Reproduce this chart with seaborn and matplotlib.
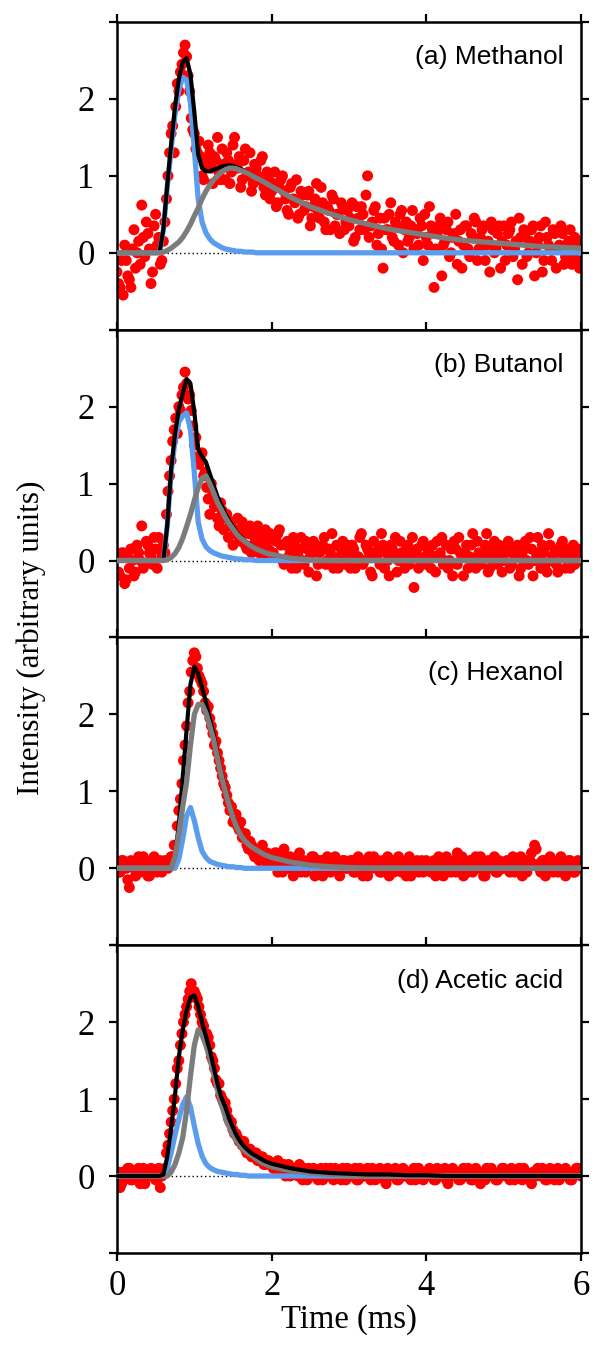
import numpy as np
import pandas as pd
import matplotlib
matplotlib.use("Agg")
import matplotlib.pyplot as plt
import seaborn as sns

# ---------------- data ----------------
PANEL_LABELS = ["(a) Methanol", "(b) Butanol", "(c) Hexanol", "(d) Acetic acid"]
YLIMS = [(-0.7, 3.0), (-1.0, 3.0), (-0.7, 3.0), (-1.0, 3.0)]
X_TICKS = [0, 2, 4, 6]
Y_TICKS = [-1, 0, 1, 2, 3]
Y_TICKLABELS = ["", "0", "1", "2", ""]

# time grid of the fitted curves (ms)
T_FIT = [0.0, 0.25, 0.5, 0.55, 0.6, 0.65, 0.7, 0.75, 0.8, 0.85, 0.9, 0.95, 1.0,
         1.05, 1.1, 1.15, 1.2, 1.25, 1.3, 1.35, 1.4, 1.45, 1.5, 1.55, 1.6, 1.65,
         1.7, 1.75, 1.8, 1.85, 1.9, 1.95, 2.0, 2.25, 2.5, 2.75, 3.0, 3.25, 3.5,
         3.75, 4.0, 4.25, 4.5, 4.75, 5.0, 5.25, 5.5, 5.75, 6.0]

BLUE_A = [0, 0, 0, 0, 0.3, 0.85, 1.35, 1.8, 2.12, 2.28, 2.25, 1.95, 1.35, 0.7, 0.4,
          0.26, 0.18, 0.13, 0.1, 0.07, 0.05, 0.04, 0.03, 0.02, 0.02, 0.01, 0.01,
          0.01] + [0] * 21
GREY_A = [0, 0, 0, 0, 0.01, 0.03, 0.06, 0.1, 0.14, 0.2, 0.28, 0.37, 0.48, 0.58,
          0.7, 0.8, 0.88, 0.95, 1.0, 1.05, 1.08, 1.1, 1.1, 1.09, 1.07, 1.05, 1.03,
          1.0, 0.97, 0.95, 0.92, 0.89, 0.86, 0.72, 0.6, 0.51, 0.43, 0.37, 0.31,
          0.27, 0.23, 0.19, 0.16, 0.14, 0.12, 0.1, 0.08, 0.07, 0.06]
BLACK_A = [0, 0, 0, 0, 0.31, 0.88, 1.41, 1.9, 2.26, 2.48, 2.53, 2.32, 1.83, 1.28,
           1.1, 1.06, 1.06, 1.08, 1.1, 1.12, 1.13, 1.14, 1.13, 1.11, 1.09, 1.06,
           1.04, 1.01, 0.97, 0.95, 0.92, 0.89, 0.86, 0.72, 0.6, 0.51, 0.43, 0.37,
           0.31, 0.27, 0.23, 0.19, 0.16, 0.14, 0.12, 0.1, 0.08, 0.07, 0.06]

BLUE_B = [0, 0, 0, 0, 0, 0.45, 1.15, 1.55, 1.8, 1.88, 1.92, 1.7, 1.15, 0.5, 0.28,
          0.18, 0.13, 0.1, 0.08, 0.06, 0.05, 0.04, 0.03, 0.02, 0.02, 0.01, 0.01,
          0.01] + [0] * 21
GREY_B = [0, 0, 0, 0, 0, 0.01, 0.04, 0.09, 0.17, 0.29, 0.44, 0.6, 0.78, 0.95, 1.07,
          1.1, 1.0, 0.88, 0.75, 0.66, 0.56, 0.48, 0.41, 0.34, 0.29, 0.25, 0.21,
          0.18, 0.15, 0.13, 0.11, 0.09, 0.08, 0.03, 0.01] + [0] * 14
BLACK_B = [0, 0, 0, 0, 0, 0.46, 1.19, 1.64, 1.97, 2.17, 2.36, 2.3, 1.93, 1.45, 1.35,
           1.28, 1.13, 0.98, 0.83, 0.72, 0.61, 0.52, 0.44, 0.36, 0.31, 0.26, 0.22,
           0.19, 0.15, 0.13, 0.11, 0.09, 0.08, 0.03, 0.01] + [0] * 14

BLUE_C = [0, 0, 0, 0, 0, 0, 0, 0, 0.12, 0.38, 0.68, 0.79, 0.62, 0.4, 0.22, 0.14,
          0.09, 0.07, 0.05, 0.04, 0.03, 0.02, 0.02, 0.01, 0.01] + [0] * 24
GREY_C = [0, 0, 0, 0, 0, 0, 0, 0.15, 0.45, 0.8, 1.12, 1.6, 2.0, 2.13, 2.13, 2.02,
          1.85, 1.67, 1.43, 1.2, 1.0, 0.82, 0.66, 0.53, 0.43, 0.36, 0.31, 0.27,
          0.24, 0.21, 0.18, 0.16, 0.14, 0.08, 0.04, 0.02, 0.01] + [0] * 12
BLACK_C = [0, 0, 0, 0, 0, 0, 0, 0.15, 0.57, 1.18, 1.8, 2.39, 2.62, 2.53, 2.35, 2.16,
           1.94, 1.74, 1.48, 1.24, 1.03, 0.84, 0.68, 0.54, 0.44, 0.36, 0.31, 0.27,
           0.24, 0.21, 0.18, 0.16, 0.14, 0.08, 0.04, 0.02, 0.01] + [0] * 12

BLUE_D = [0, 0, 0, 0, 0, 0.1, 0.3, 0.53, 0.74, 0.93, 1.03, 0.9, 0.65, 0.42, 0.26,
          0.16, 0.11, 0.08, 0.06, 0.05, 0.04, 0.03, 0.02, 0.02, 0.01, 0.01] + [0] * 23
GREY_D = [0, 0, 0, 0, 0, 0, 0.05, 0.15, 0.3, 0.5, 0.85, 1.3, 1.7, 1.9, 1.83, 1.7,
          1.53, 1.33, 1.12, 0.93, 0.77, 0.64, 0.53, 0.45, 0.38, 0.33, 0.29, 0.26,
          0.22, 0.19, 0.16, 0.14, 0.12, 0.07, 0.04, 0.02, 0.01] + [0] * 12
BLACK_D = [0, 0, 0, 0, 0.02, 0.25, 0.62, 1.05, 1.55, 1.9, 2.15, 2.32, 2.35, 2.2, 2.0,
           1.82, 1.64, 1.42, 1.2, 1.02, 0.9, 0.75, 0.63, 0.52, 0.44, 0.38, 0.33,
           0.29, 0.26, 0.23, 0.2, 0.18, 0.16, 0.1, 0.06, 0.04, 0.03, 0.02, 0.02,
           0.01, 0.01] + [0] * 8

# measured points: "EVEN" sampled at 0, 0.04, ... 6.00 ms;
# "ODD" sampled at 0.02, 0.06, ... 5.98 ms (one row per ms)
T_STEP = 0.04
EVEN_A = [
    -0.25, -0.45, -0.55, -0.1, -0.35, 0.05, -0.2, 0.15, 0.62, -0.05, 0.25, -0.4, 0.35, 0.1, -0.15, 0.15, 0.7, 1.3, 1.65, 1.9, 2.1, 2.45, 2.7, 2.3, 1.75,
    1.55, 1.3, 1.25, 0.95, 1.15, 1.3, 0.9, 1.2, 1.05, 1.35, 0.95, 1.2, 1.05, 1.5, 1.1, 0.85, 1.2, 1.0, 1.3, 0.9, 1.1, 0.95, 1.25, 0.75, 0.95,
    0.8, 1.05, 0.65, 0.95, 0.8, 0.55, 0.85, 0.7, 0.95, 0.5, 0.75, 0.6, 0.8, 0.45, 0.7, 0.55, 0.85, 0.4, 0.6, 0.3, 0.7, 0.5, 0.25, 0.6, 0.4,
    0.35, 0.65, 0.2, 0.45, 0.6, 0.3, 1.0, 0.35, 0.55, 0.1, 0.45, -0.2, 0.3, 0.5, 0.2, 0.4, 0.1, 0.55, 0.3, 0.15, 0.35, 0.05, 0.25, 0.45, -0.1,
    0.2, 0.6, 0.3, 0.05, 0.35, -0.3, 0.15, 0.4, 0.0, 0.25, -0.15, 0.3, 0.1, 0.35, -0.05, 0.2, 0.4, 0.05, 0.3, -0.1, 0.15, 0.4, 0.0, 0.25, -0.2,
    0.35, 0.1, 0.3, -0.05, 0.15, 0.45, -0.15, 0.2, 0.0, 0.3, -0.3, 0.1, 0.35, -0.1, 0.2, 0.05, 0.3, -0.2, 0.1, 0.25, -0.05, 0.15, -0.15, 0.2, -0.1,
    0.1]
ODD_A = [
    -0.4, -0.1, 0.1, -0.3, -0.45, 0.3, 0.0, -0.15, 0.2, 0.4, 0.05, -0.25, 0.5, 0.2, -0.1, 0.4, 1.0, 1.55, 1.3, 2.2, 2.35, 2.6, 2.55, 2.1, 1.6,
    1.35, 1.45, 1.0, 1.2, 1.4, 1.1, 1.25, 1.5, 0.95, 1.15, 1.3, 0.9, 1.4, 1.15, 1.25, 0.95, 1.35, 1.05, 0.8, 1.15, 1.0, 1.2, 0.85, 1.05, 0.7,
    0.9, 0.6, 0.85, 1.0, 0.7, 0.5, 0.9, 0.65, 0.45, 0.8, 0.55, 0.75, 0.35, 0.6, 0.9, 0.45, 0.65, 0.3, 0.55, 0.75, 0.35, 0.5, 0.65, 0.3, 0.55,
    0.45, 0.15, 0.6, 0.3, 0.5, 0.75, 0.2, 0.4, 0.6, 0.25, 0.05, 0.45, 0.3, 0.65, 0.15, 0.35, 0.5, 0.0, 0.4, 0.2, 0.55, 0.3, 0.1, 0.35, 0.5,
    0.1, 0.35, -0.45, 0.25, 0.45, 0.1, 0.3, -0.05, 0.2, 0.5, 0.15, -0.2, 0.35, 0.05, 0.25, 0.45, -0.1, 0.2, 0.35, 0.1, -0.25, 0.3, 0.05, 0.35, 0.15,
    -0.1, 0.25, 0.4, 0.05, -0.35, 0.2, 0.3, -0.05, 0.15, 0.35, 0.0, 0.2, -0.25, 0.4, 0.1, -0.1, 0.25, 0.05, 0.35, -0.15, 0.1, 0.3, -0.05, 0.15, -0.2]

EVEN_B = [
    0.05, -0.2, 0.1, -0.25, -0.1, 0.0, -0.15, 0.1, 0.45, -0.05, 0.2, 0.05, 0.3, -0.1, 0.15, 0.2, 0.6, 1.1, 1.55, 1.85, 2.0, 2.15, 2.45, 2.1, 1.95,
    1.5, 1.35, 1.3, 1.1, 0.95, 0.6, 0.85, 0.75, 0.45, 0.65, 0.55, 0.3, 0.5, 0.35, 0.55, 0.25, 0.4, 0.15, 0.45, 0.2, 0.35, 0.1, 0.3, 0.4, 0.15,
    0.3, 0.05, 0.35, 0.2, -0.05, 0.25, 0.1, 0.3, -0.1, 0.15, 0.0, 0.25, -0.15, 0.1, 0.2, -0.05, 0.15, 0.3, 0.0, 0.1, -0.1, 0.2, 0.05, 0.25, -0.05,
    0.1, 0.2, -0.1, 0.05, 0.35, 0.0, 0.15, -0.15, 0.25, 0.05, -0.05, 0.2, 0.1, -0.2, 0.15, 0.3, 0.0, 0.1, -0.1, 0.2, 0.05, -0.35, 0.15, 0.0, 0.25,
    -0.05, 0.1, 0.2, -0.15, 0.05, 0.3, 0.0, -0.1, 0.15, 0.25, -0.05, 0.1, -0.2, 0.2, 0.05, 0.35, -0.1, 0.1, 0.0, 0.2, -0.15, 0.05, 0.25, -0.05, 0.1,
    0.0, 0.2, -0.1, 0.15, 0.05, -0.2, 0.1, 0.25, -0.05, 0.15, 0.0, 0.3, -0.1, 0.1, -0.15, 0.2, 0.05, -0.05, 0.15, 0.25, -0.1, 0.05, 0.1, -0.05, 0.15,
    0.05]
ODD_B = [
    -0.15, 0.1, -0.3, 0.05, 0.15, -0.2, 0.2, 0.0, -0.1, 0.25, 0.1, -0.05, 0.15, 0.3, 0.05, 0.1, 0.9, 1.3, 1.7, 1.65, 1.95, 2.25, 2.3, 2.15, 1.75,
    1.6, 1.25, 1.4, 1.15, 0.8, 1.0, 0.7, 0.55, 0.75, 0.4, 0.6, 0.45, 0.2, 0.4, 0.3, 0.5, 0.2, 0.35, 0.1, 0.3, 0.45, 0.2, 0.05, 0.25, 0.35,
    0.1, 0.25, 0.4, 0.0, 0.2, 0.05, -0.1, 0.2, 0.1, 0.3, -0.05, 0.15, 0.05, 0.25, -0.2, 0.1, 0.2, -0.05, 0.15, 0.35, 0.0, -0.1, 0.15, 0.05, 0.2,
    -0.1, 0.15, 0.05, 0.3, -0.05, 0.2, 0.1, -0.2, 0.05, 0.15, 0.35, -0.1, 0.0, 0.2, 0.1, -0.15, 0.25, 0.05, 0.15, -0.05, 0.3, 0.1, -0.1, 0.2, 0.05,
    0.15, -0.1, 0.05, 0.25, 0.1, -0.05, 0.2, 0.0, -0.2, 0.15, 0.3, 0.05, 0.1, -0.1, 0.2, 0.0, 0.25, -0.05, 0.1, 0.35, -0.1, 0.15, 0.0, 0.2, -0.15,
    0.1, 0.25, -0.05, 0.05, 0.2, -0.1, 0.15, 0.0, 0.3, -0.2, 0.1, 0.05, 0.2, -0.05, 0.35, 0.0, 0.1, -0.15, 0.2, 0.05, 0.15, -0.1, 0.2, 0.0, 0.1]

EVEN_C = [
    0.05, -0.05, 0.1, 0.0, -0.25, 0.05, -0.1, 0.15, 0.0, 0.1, -0.1, 0.05, 0.15, -0.05, 0.1, 0.0, 0.05, 0.1, 0.15, 0.3, 0.75, 1.1, 1.6, 2.15, 2.55,
    2.8, 2.6, 2.45, 2.3, 2.05, 1.95, 1.75, 1.65, 1.4, 1.2, 1.05, 0.85, 0.8, 0.65, 0.55, 0.6, 0.4, 0.3, 0.35, 0.2, 0.25, 0.1, 0.3, 0.15, 0.05,
    0.15, 0.2, -0.05, 0.1, 0.25, 0.0, 0.15, -0.1, 0.1, 0.2, 0.05, -0.05, 0.1, 0.15, -0.1, 0.05, 0.1, 0.0, 0.15, -0.05, 0.1, 0.05, -0.1, 0.1, 0.0,
    0.05, 0.1, -0.05, 0.15, 0.0, 0.1, -0.1, 0.05, 0.15, 0.0, -0.05, 0.1, 0.05, -0.1, 0.1, 0.0, 0.15, -0.05, 0.05, 0.1, -0.1, 0.0, 0.1, 0.05, -0.05,
    0.1, 0.0, 0.05, -0.1, 0.15, 0.05, 0.0, 0.1, -0.05, 0.1, 0.2, 0.0, -0.1, 0.05, 0.1, -0.05, 0.15, 0.05, 0.0, -0.1, 0.1, 0.05, 0.15, -0.05, 0.05,
    0.0, 0.1, -0.05, 0.15, 0.05, 0.0, -0.1, 0.1, 0.05, 0.2, 0.3, 0.05, -0.05, 0.1, 0.0, 0.15, -0.05, 0.05, 0.1, 0.0, -0.1, 0.1, 0.05, -0.05, 0.1,
    0.05]
ODD_C = [
    -0.05, 0.1, 0.05, -0.15, 0.1, 0.0, 0.05, -0.05, 0.15, 0.05, -0.1, 0.1, 0.0, 0.05, -0.05, 0.1, 0.0, 0.15, 0.3, 0.55, 0.9, 1.4, 1.85, 2.3, 2.7,
    2.75, 2.5, 2.4, 2.15, 2.1, 1.85, 1.6, 1.5, 1.3, 1.1, 0.95, 0.75, 0.6, 0.7, 0.5, 0.4, 0.45, 0.25, 0.3, 0.15, 0.2, 0.25, 0.1, 0.2, 0.1,
    0.05, 0.2, 0.1, -0.05, 0.15, 0.05, 0.1, 0.0, 0.15, -0.05, 0.1, 0.0, 0.05, 0.15, 0.0, 0.1, -0.1, 0.05, 0.1, 0.0, 0.15, -0.05, 0.05, 0.1, 0.0,
    0.1, -0.05, 0.05, 0.1, -0.1, 0.05, 0.15, 0.0, 0.05, 0.1, -0.05, 0.0, 0.15, 0.05, -0.05, 0.1, 0.0, 0.05, -0.1, 0.15, 0.05, 0.0, -0.05, 0.1, 0.0,
    0.05, -0.05, 0.1, 0.0, 0.05, -0.1, 0.15, 0.0, 0.05, -0.05, 0.1, 0.15, 0.0, -0.05, 0.1, 0.05, 0.0, 0.15, -0.1, 0.05, 0.0, 0.1, -0.05, 0.1, 0.0,
    0.05, 0.0, 0.1, -0.05, 0.1, 0.15, 0.0, -0.05, 0.1, 0.05, 0.25, 0.0, 0.1, -0.1, 0.05, 0.1, 0.0, -0.05, 0.15, 0.05, 0.0, 0.1, -0.05, 0.05, 0.0]

EVEN_D = [
    -0.05, -0.15, 0.05, 0.0, 0.1, -0.05, 0.05, 0.1, 0.0, -0.1, 0.05, 0.1, 0.0, -0.05, -0.15, 0.05, 0.3, 0.55, 0.85, 1.2, 1.5, 1.85, 2.1, 2.3, 2.5,
    2.4, 2.3, 2.1, 1.95, 1.85, 1.7, 1.5, 1.25, 1.2, 1.0, 0.95, 0.75, 0.7, 0.55, 0.5, 0.45, 0.45, 0.3, 0.35, 0.25, 0.3, 0.2, 0.25, 0.15, 0.2,
    0.15, 0.1, 0.2, 0.05, 0.15, 0.1, 0.0, 0.1, 0.05, 0.15, -0.05, 0.05, 0.1, 0.0, 0.05, -0.05, 0.1, 0.05, 0.0, 0.1, -0.05, 0.05, 0.0, 0.1, -0.05,
    0.05, 0.0, 0.1, -0.05, 0.05, 0.0, 0.1, -0.05, 0.05, 0.0, 0.1, 0.05, -0.1, 0.05, 0.0, 0.1, -0.05, 0.05, 0.0, 0.05, -0.05, 0.1, 0.0, 0.05, -0.05,
    0.0, 0.1, 0.05, -0.05, 0.05, 0.0, 0.1, -0.1, 0.05, 0.0, 0.05, -0.05, 0.1, 0.0, 0.05, -0.05, 0.1, 0.05, 0.0, -0.05, 0.05, 0.1, 0.0, -0.05, 0.05,
    0.1, 0.0, -0.05, 0.05, 0.0, 0.1, -0.05, 0.05, 0.0, -0.1, 0.05, 0.1, 0.0, 0.05, -0.05, 0.1, 0.0, 0.05, -0.05, 0.05, 0.1, 0.0, -0.05, 0.05, 0.1,
    0.0]
ODD_D = [
    0.05, -0.1, 0.0, 0.1, -0.05, 0.05, 0.0, -0.1, 0.1, 0.05, 0.0, 0.05, -0.05, 0.1, 0.0, 0.1, 0.4, 0.7, 1.0, 1.4, 1.7, 2.0, 2.2, 2.4, 2.35,
    2.35, 2.2, 2.0, 1.85, 1.8, 1.55, 1.4, 1.2, 1.05, 0.95, 0.85, 0.7, 0.6, 0.55, 0.45, 0.4, 0.35, 0.35, 0.25, 0.3, 0.2, 0.25, 0.15, 0.2, 0.15,
    0.1, 0.15, 0.05, 0.1, 0.0, 0.15, 0.05, 0.1, 0.0, 0.05, 0.1, -0.05, 0.05, 0.1, 0.0, 0.05, -0.05, 0.1, 0.05, 0.0, 0.1, 0.05, -0.05, 0.05, 0.1,
    0.0, 0.05, -0.05, 0.1, 0.0, 0.05, 0.0, 0.1, -0.05, 0.05, 0.0, -0.05, 0.1, 0.05, 0.0, -0.05, 0.05, 0.1, 0.0, 0.05, 0.0, -0.05, 0.1, 0.0, 0.05,
    0.05, 0.0, -0.05, 0.1, 0.0, 0.05, -0.05, 0.05, 0.1, 0.0, -0.05, 0.05, 0.0, 0.1, -0.05, 0.05, 0.0, -0.1, 0.05, 0.1, 0.0, 0.05, -0.05, 0.0, 0.1,
    0.0, 0.05, 0.1, -0.05, 0.05, 0.0, 0.1, 0.0, -0.05, 0.05, 0.0, 0.05, 0.1, -0.05, 0.0, 0.05, -0.05, 0.1, 0.0, 0.05, 0.0, -0.05, 0.05, 0.1, 0.05]

PANELS = [
    (PANEL_LABELS[0], EVEN_A, ODD_A, BLUE_A, GREY_A, BLACK_A, YLIMS[0], False),
    (PANEL_LABELS[1], EVEN_B, ODD_B, BLUE_B, GREY_B, BLACK_B, YLIMS[1], False),
    (PANEL_LABELS[2], EVEN_C, ODD_C, BLUE_C, GREY_C, BLACK_C, YLIMS[2], False),
    (PANEL_LABELS[3], EVEN_D, ODD_D, BLUE_D, GREY_D, BLACK_D, YLIMS[3], True),
]

# ---------------- style ----------------
sns.set_theme(style="ticks")
plt.rcParams["font.family"] = ["Liberation Serif", "DejaVu Serif"]
plt.rcParams["axes.linewidth"] = 1.8
plt.rcParams["axes.edgecolor"] = "black"
plt.rcParams["xtick.color"] = "black"
plt.rcParams["ytick.color"] = "black"
plt.rcParams["text.color"] = "black"
plt.rcParams["axes.labelcolor"] = "black"

RED = "#ff0000"
BLUE = "#5b9dec"
GREY = "#7c7c7c"
BLACK = "#000000"

fig, axes = plt.subplots(4, 1, figsize=(5.95, 13.49), dpi=100, sharex=True,
                         gridspec_kw=dict(hspace=0))
fig.subplots_adjust(left=0.1966, right=0.9765, top=0.9837, bottom=0.0712)

for ax, (label, even, odd, blue, grey, black, ylim, black_top) in zip(axes, PANELS):
    t_even = np.round(np.arange(len(even)) * T_STEP, 2)
    t_odd = np.round(np.arange(len(odd)) * T_STEP + T_STEP / 2, 2)
    df_pts = pd.DataFrame({"t": np.concatenate([t_even, t_odd]),
                           "y": list(even) + list(odd)})
    df_fit = pd.DataFrame({"t": T_FIT, "blue": blue, "grey": grey, "black": black})

    ax.axhline(0, color="black", lw=1.0, ls=(0, (1, 2)), zorder=1)
    sns.scatterplot(data=df_pts, x="t", y="y", ax=ax, color=RED, s=62,
                    edgecolor="none", linewidth=0, zorder=2, legend=False)
    sns.lineplot(data=df_fit, x="t", y="blue", ax=ax, color=BLUE, lw=3.8,
                 estimator=None, sort=False, zorder=3, legend=False)
    sns.lineplot(data=df_fit, x="t", y="black", ax=ax, color=BLACK, lw=3.0,
                 estimator=None, sort=False, zorder=5 if black_top else 4,
                 legend=False)
    sns.lineplot(data=df_fit, x="t", y="grey", ax=ax, color=GREY, lw=3.8,
                 estimator=None, sort=False, zorder=4 if black_top else 5,
                 legend=False)

    ax.set_xlim(0, 6)
    ax.set_ylim(*ylim)
    ax.set_yticks(Y_TICKS)
    ax.set_yticklabels(Y_TICKLABELS)
    ax.set_xticks(X_TICKS)
    ax.set_xlabel("")
    ax.set_ylabel("")
    for s in ax.spines.values():
        s.set_visible(True)
        s.set_linewidth(1.8)
        s.set_color("black")
    ax.tick_params(axis="both", which="major", direction="out", length=6,
                   width=1.6, labelsize=25, colors="black")
    ax.tick_params(axis="y", left=True, right=True, labelleft=True,
                   labelright=False, pad=10)
    ax.tick_params(axis="x", top=True, bottom=True, labeltop=False,
                   labelbottom=False, pad=6)
    ax.text(0.962, 0.885, label, transform=ax.transAxes, ha="right",
            va="center", fontsize=19, color="black",
            family=["Liberation Sans", "DejaVu Sans"])

axes[-1].tick_params(axis="x", labelbottom=True)
axes[-1].set_xticklabels([str(v) for v in X_TICKS])
axes[-1].set_xlabel("Time (ms)", fontsize=23.5, labelpad=1, color="black")
fig.text(0.052, (0.9837 + 0.0712) / 2, "Intensity (arbitrary units)",
         rotation=90, ha="center", va="center", fontsize=22.5, color="black")

fig.savefig("out.png", dpi=100)
